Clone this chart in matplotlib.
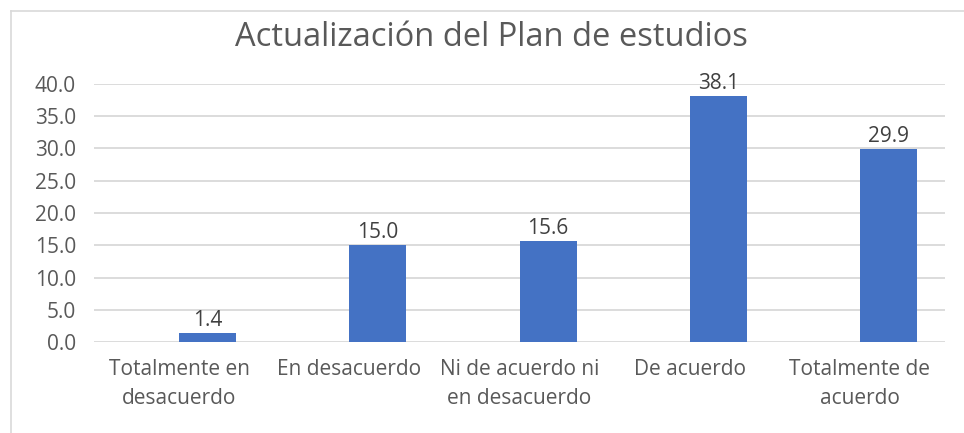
import matplotlib.pyplot as plt
from matplotlib.lines import Line2D
import numpy as np

plt.rcParams['font.family'] = ['Open Sans', 'DejaVu Sans']

categories = ['Totalmente en\ndesacuerdo', 'En desacuerdo', 'Ni de acuerdo ni\nen desacuerdo',
              'De acuerdo', 'Totalmente de\nacuerdo']
values = [1.4, 15.0, 15.6, 38.1, 29.9]
yticks = [0, 5, 10, 15, 20, 25, 30, 35, 40]

text_color = '#595959'
grid_color = '#d9d9d9'

fig = plt.figure(figsize=(9.64, 4.33), dpi=100)
W, H = 964, 433
ax = fig.add_axes([94 / W, 1 - 342 / H, (945 - 94) / W, (342 - 84) / H])

x = np.arange(len(categories))
bw = 0.335
bars = ax.bar(x, values, width=bw, align='edge', color='#4472C4', zorder=3)
for b, v in zip(bars, values):
    ax.text(b.get_x() + bw / 2, v + 0.3, f'{v:.1f}', ha='center', va='bottom',
            fontsize=15, color='#404040')

ax.set_xlim(-0.5, len(categories) - 0.5)
ax.set_ylim(0, 40)
ax.set_yticks(yticks)
ax.set_yticklabels([f'{t:.1f}' for t in yticks])
ax.set_xticks(x)
ax.set_xticklabels(categories, linespacing=1.5)
ax.tick_params(axis='both', length=0, labelsize=15, colors=text_color)
ax.tick_params(axis='x', pad=12)
ax.tick_params(axis='y', pad=13)
ax.grid(axis='y', color=grid_color, linewidth=1.3, zorder=0)
for s in ax.spines.values():
    s.set_visible(False)

fig.text(491 / W, 1 - 37 / H, 'Actualización del Plan de estudios', ha='center', va='center',
         fontsize=23.5, color=text_color)

# outer chart border (left and top visible)
fig.add_artist(Line2D([11 / W, 11 / W], [0, 1 - 11 / H], transform=fig.transFigure,
                      color=grid_color, linewidth=1.2))
fig.add_artist(Line2D([11 / W, 1], [1 - 11 / H, 1 - 11 / H], transform=fig.transFigure,
                      color=grid_color, linewidth=1.2))

fig.savefig('out.png', dpi=100)
